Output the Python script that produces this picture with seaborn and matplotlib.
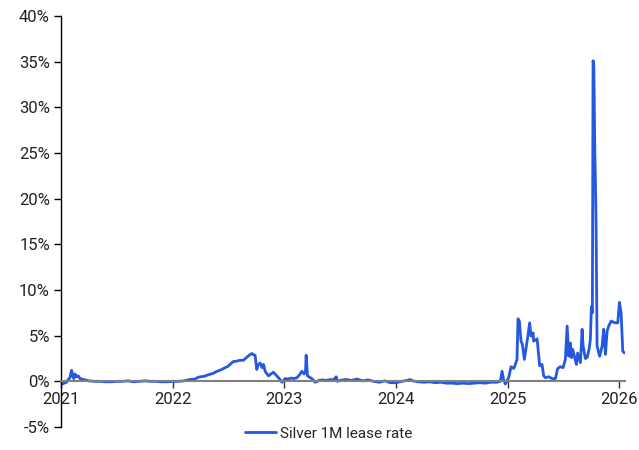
import pandas as pd
import matplotlib
matplotlib.use('Agg')
import matplotlib.pyplot as plt
import matplotlib.dates as mdates
from matplotlib.ticker import FuncFormatter
import seaborn as sns

# Silver 1M lease rate (time as decimal year, rate in %)
years = [
    2021.000, 2021.010, 2021.030, 2021.050, 2021.065, 2021.080, 2021.095, 2021.105,
    2021.115, 2021.125, 2021.140, 2021.155, 2021.170, 2021.200, 2021.250, 2021.300,
    2021.350, 2021.400, 2021.450, 2021.500, 2021.550, 2021.600, 2021.650, 2021.700,
    2021.750, 2021.800, 2021.850, 2021.900, 2021.950, 2022.000, 2022.050, 2022.100,
    2022.156, 2022.200, 2022.230, 2022.250, 2022.280, 2022.317, 2022.340, 2022.360,
    2022.380, 2022.410, 2022.440, 2022.470, 2022.490, 2022.514, 2022.540, 2022.570,
    2022.600, 2022.633, 2022.650, 2022.670, 2022.690, 2022.709, 2022.725, 2022.738,
    2022.753, 2022.765, 2022.783, 2022.800, 2022.813, 2022.828, 2022.845, 2022.858,
    2022.880, 2022.902, 2022.933, 2022.955, 2022.978, 2023.007, 2023.030, 2023.060,
    2023.085, 2023.112, 2023.135, 2023.157, 2023.177, 2023.190, 2023.195, 2023.207,
    2023.225, 2023.246, 2023.276, 2023.310, 2023.340, 2023.375, 2023.410, 2023.440,
    2023.464, 2023.476, 2023.500, 2023.550, 2023.600, 2023.650, 2023.700, 2023.750,
    2023.800, 2023.850, 2023.900, 2023.950, 2024.000, 2024.050, 2024.100, 2024.125,
    2024.150, 2024.200, 2024.250, 2024.300, 2024.350, 2024.400, 2024.450, 2024.500,
    2024.550, 2024.600, 2024.650, 2024.700, 2024.750, 2024.800, 2024.844, 2024.900,
    2024.934, 2024.949, 2024.963, 2024.978, 2025.008, 2025.030, 2025.053, 2025.068,
    2025.083, 2025.092, 2025.104, 2025.119, 2025.131, 2025.149, 2025.167, 2025.182,
    2025.196, 2025.209, 2025.227, 2025.232, 2025.263, 2025.286, 2025.307, 2025.322,
    2025.337, 2025.367, 2025.397, 2025.427, 2025.447, 2025.471, 2025.496, 2025.516,
    2025.532, 2025.546, 2025.561, 2025.570, 2025.582, 2025.597, 2025.615, 2025.626,
    2025.651, 2025.666, 2025.675, 2025.695, 2025.711, 2025.728, 2025.740, 2025.749,
    2025.758, 2025.764, 2025.771, 2025.780, 2025.785, 2025.791, 2025.800, 2025.823,
    2025.845, 2025.859, 2025.875, 2025.890, 2025.904, 2025.926, 2025.943, 2025.964,
    2025.985, 2026.000, 2026.015, 2026.030, 2026.045,
]
lease_rate = [
    -0.30, -0.30, -0.20, -0.10, 0.20, 0.40, 1.20, 0.60,
    0.30, 0.80, 0.50, 0.60, 0.30, 0.20, 0.05, 0.00,
    0.00, -0.05, -0.05, 0.00, 0.00, 0.05, -0.05, 0.00,
    0.05, 0.00, 0.00, -0.05, -0.05, 0.00, 0.00, 0.05,
    0.20, 0.25, 0.45, 0.50, 0.55, 0.70, 0.80, 0.85,
    1.00, 1.15, 1.30, 1.50, 1.60, 1.85, 2.15, 2.20,
    2.30, 2.30, 2.50, 2.70, 2.90, 3.05, 2.90, 2.85,
    1.30, 1.80, 2.00, 1.50, 1.85, 1.10, 0.80, 0.60,
    0.80, 1.00, 0.60, 0.30, -0.10, 0.30, 0.25, 0.35,
    0.30, 0.40, 0.70, 1.10, 0.80, 1.20, 2.85, 0.60,
    0.45, 0.30, -0.10, 0.10, 0.15, 0.10, 0.20, 0.15,
    0.50, 0.00, 0.10, 0.20, 0.10, 0.25, 0.05, 0.15,
    0.00, -0.10, 0.05, -0.15, -0.15, 0.00, 0.10, 0.20,
    0.05, -0.05, -0.10, -0.05, -0.15, -0.10, -0.20, -0.20,
    -0.25, -0.20, -0.25, -0.20, -0.15, -0.20, -0.10, -0.10,
    0.00, 1.10, 0.20, -0.30, 0.40, 1.60, 1.40, 1.85,
    2.40, 6.85, 6.60, 4.40, 4.05, 2.40, 3.85, 5.10,
    6.40, 4.95, 5.30, 4.40, 4.65, 1.70, 1.85, 0.60,
    0.40, 0.50, 0.30, 0.30, 1.40, 1.60, 1.50, 2.40,
    6.05, 2.75, 4.20, 2.60, 3.50, 2.75, 1.85, 3.10,
    2.05, 5.70, 3.85, 2.50, 2.60, 3.50, 4.60, 8.20,
    7.50, 35.1, 34.5, 25.0, 22.1, 17.0, 3.85, 2.75,
    3.85, 5.70, 2.95, 5.50, 6.05, 6.60, 6.50, 6.40,
    6.40, 8.65, 7.50, 3.30, 3.10,
]
series_name = 'Silver 1M lease rate'
year_ticks = [2021, 2022, 2023, 2024, 2025, 2026]
y_ticks = [-5, 0, 5, 10, 15, 20, 25, 30, 35, 40]

start = pd.Timestamp('2021-01-01')
dates = [start + pd.Timedelta(days=(y - 2021) * 365.25) for y in years]
df = pd.DataFrame({'date': dates, 'rate': lease_rate, 'series': series_name})

sns.set_style('white')
plt.rcParams['font.family'] = ['Roboto', 'DejaVu Sans']
plt.rcParams['font.size'] = 12

fig = plt.figure(figsize=(6.39, 4.5), dpi=100)
ax = fig.add_axes([61 / 639, 23 / 450, (625 - 61) / 639, (427 - 16) / 450])

sns.lineplot(data=df, x='date', y='rate', hue='series', palette=['#2458E0'],
             linewidth=2.0, ax=ax, legend=False)

ax.set_ylim(-5, 40)
ax.set_xlim(start, start + pd.Timedelta(days=(2026.05 - 2021) * 365.25))
ax.set_yticks(y_ticks)
ax.yaxis.set_major_formatter(FuncFormatter(lambda v, p: f'{v:.0f}%'))
ax.set_xticks([pd.Timestamp(f'{y}-01-01') for y in year_ticks])
ax.xaxis.set_major_formatter(mdates.DateFormatter('%Y'))
ax.set_xlabel('')
ax.set_ylabel('')

for side in ['top', 'right']:
    ax.spines[side].set_visible(False)
ax.spines['left'].set_color('black')
ax.spines['left'].set_linewidth(1.0)
ax.spines['bottom'].set_position(('data', 0))
ax.spines['bottom'].set_color('#808080')
ax.spines['bottom'].set_linewidth(1.5)

ax.tick_params(axis='y', direction='out', length=5, width=1, color='black',
               labelsize=12, labelcolor='#222222', pad=3, left=True)
ax.tick_params(axis='x', direction='out', length=5, width=1, color='#333333',
               labelsize=12, labelcolor='#222222', pad=3, bottom=True)

line = ax.get_lines()[0]
fig.legend([line], [series_name], loc='lower center', bbox_to_anchor=(0.515, -0.01),
           frameon=False, fontsize=11, handlelength=2.0, handletextpad=0.3)

fig.savefig('out.png', dpi=100)
